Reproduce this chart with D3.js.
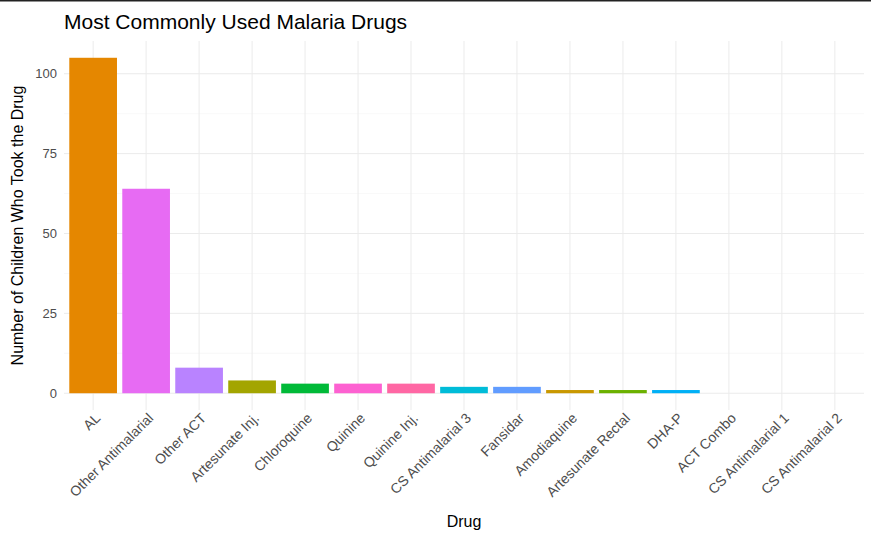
<!DOCTYPE html>
<html><head><meta charset="utf-8">
<script src="https://cdn.jsdelivr.net/npm/d3@7"></script>
<style>body{margin:0;background:#fff;font-family:"Liberation Sans",Arial,sans-serif}</style>
</head><body>
<script>
// values
var drugs = ["AL","Other Antimalarial","Other ACT","Artesunate Inj.","Chloroquine","Quinine","Quinine Inj.",
  "CS Antimalarial 3","Fansidar","Amodiaquine","Artesunate Rectal","DHA-P","ACT Combo","CS Antimalarial 1","CS Antimalarial 2"];
var counts = [105,64,8,4,3,3,3,2,2,1,1,1,0,0,0];
var colors = ["#E58700","#E76BF3","#B983FF","#A3A500","#00BA38","#FD61D1","#FF67A4","#00BCD8","#619CFF",
  "#C99800","#6BB100","#00B0F6","#00C0AF","#8AAB00","#DE8C00"];
var yTicks = [0,25,50,75,100];

var width = 871, height = 538, margin = {t:41, l:64, r:7, b:128};
var svg = d3.select("body").append("svg").attr("width",width).attr("height",height);
svg.append("line").attr("x1",0).attr("x2",width).attr("y1",0.5).attr("y2",0.5).attr("stroke","#222").attr("stroke-width",2);

var x = d3.scaleBand().domain(drugs).range([margin.l, width-margin.r]).padding(0.1);
var y = d3.scaleLinear().domain([-5.25,110.25]).range([height-margin.b, margin.t]);

var g = svg.append("g");
// minor grid
d3.range(12.5,110,25).forEach(function(v){
  g.append("line").attr("x1",margin.l).attr("x2",width-margin.r).attr("y1",y(v)).attr("y2",y(v)).attr("stroke","#F3F3F3").attr("stroke-width",0.6);
});
yTicks.forEach(function(v){
  g.append("line").attr("x1",margin.l).attr("x2",width-margin.r).attr("y1",y(v)).attr("y2",y(v)).attr("stroke","#EBEBEB");
  g.append("text").attr("x",margin.l-7).attr("y",y(v)).attr("dy","0.35em").attr("text-anchor","end")
    .attr("font-size",13).attr("fill","#4D4D4D").text(v);
});
drugs.forEach(function(d){
  var cx = x(d)+x.bandwidth()/2;
  g.append("line").attr("x1",cx).attr("x2",cx).attr("y1",margin.t).attr("y2",height-margin.b).attr("stroke","#EBEBEB");
});

svg.selectAll("rect.bar").data(drugs).enter().append("rect")
  .attr("x",function(d){return x(d);}).attr("width",x.bandwidth())
  .attr("y",function(d,i){return y(counts[i]);})
  .attr("height",function(d,i){return y(0)-y(counts[i]);})
  .attr("fill",function(d,i){return colors[i];});

svg.selectAll("text.xl").data(drugs).enter().append("text")
  .attr("font-size",14).attr("fill","#4D4D4D").attr("text-anchor","end")
  .attr("transform",function(d){return "translate("+(x(d)+x.bandwidth()/2+8)+","+(height-margin.b+9)+") rotate(-45)";})
  .text(function(d){return d;});

svg.append("text").attr("x",(margin.l+width-margin.r)/2).attr("y",527).attr("text-anchor","middle")
  .attr("font-size",16).attr("fill","#000").text("Drug");
svg.append("text").attr("transform","translate(23,"+((margin.t+height-margin.b)/2)+") rotate(-90)")
  .attr("text-anchor","middle").attr("font-size",16).attr("fill","#000").text("Number of Children Who Took the Drug");
svg.append("text").attr("x",64).attr("y",29).attr("font-size",21).attr("fill","#000").text("Most Commonly Used Malaria Drugs");
</script>
</body></html>
